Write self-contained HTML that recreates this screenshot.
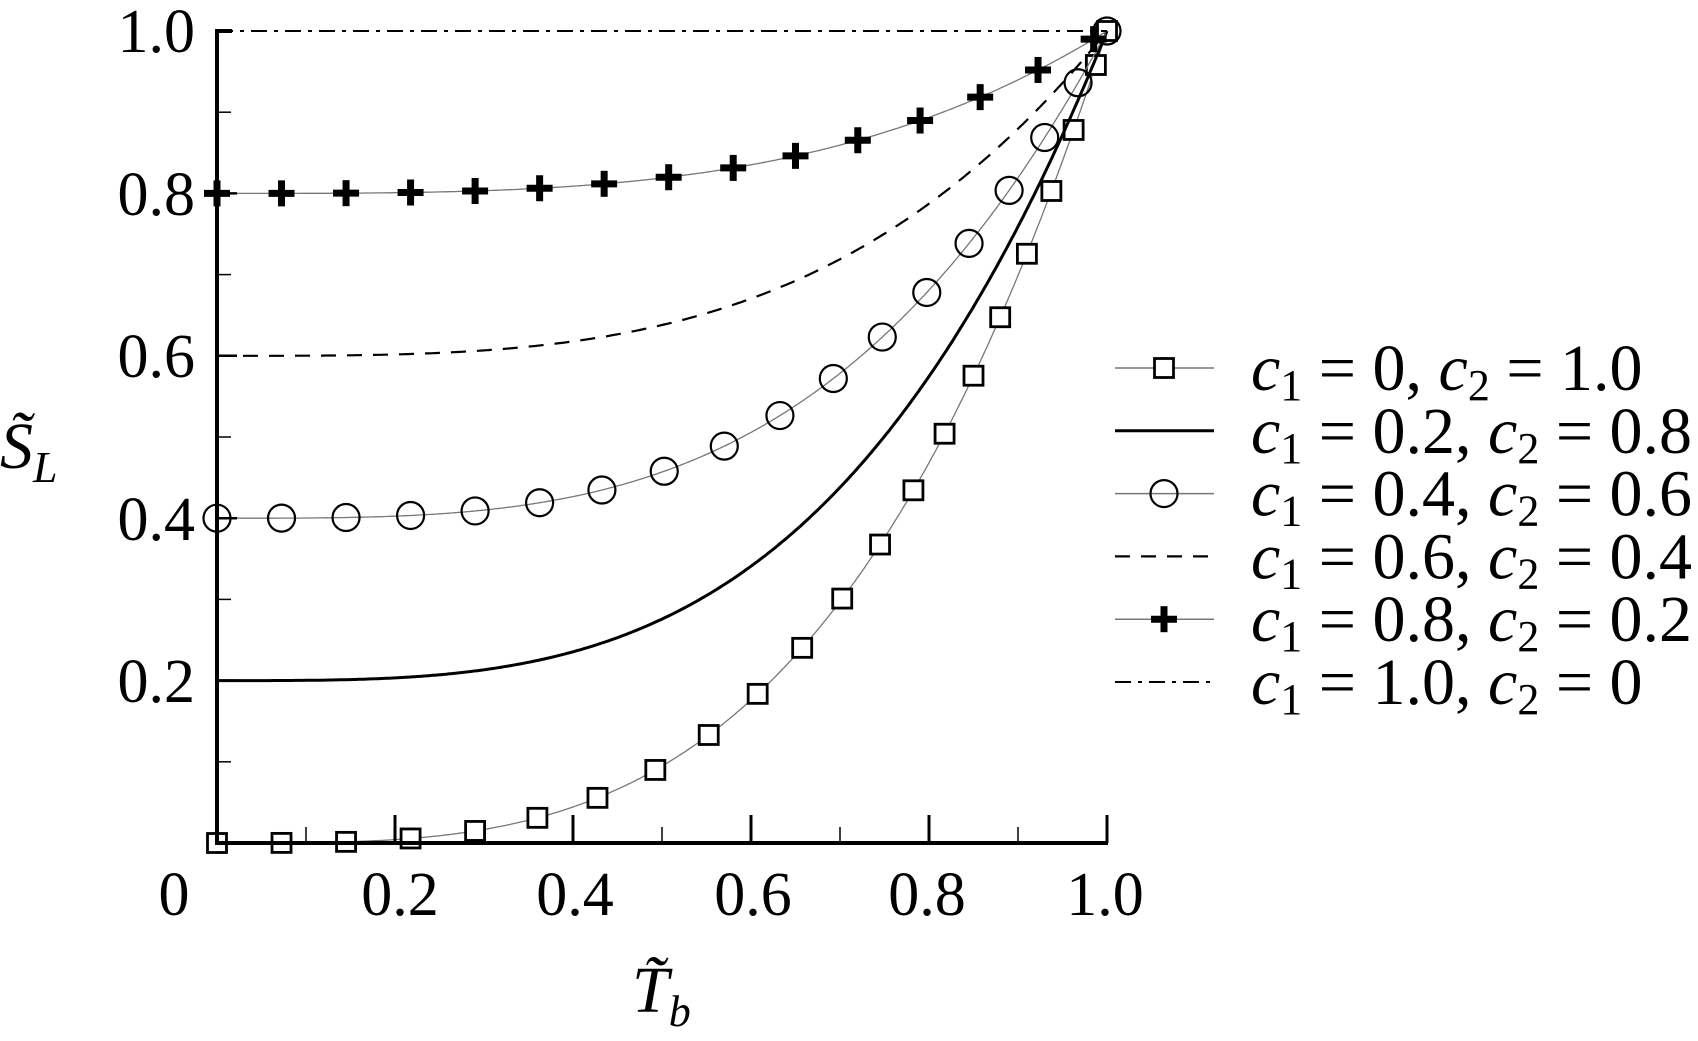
<!DOCTYPE html>
<html><head><meta charset="utf-8"><style>
html,body{margin:0;padding:0;background:#fff;}
svg{display:block;font-family:"Liberation Serif","Times New Roman",Times,serif;}
</style></head><body>
<svg id="s" width="1698" height="1041" viewBox="0 0 1698 1041" xmlns="http://www.w3.org/2000/svg">
<g id="curves"></g>
<g id="axes" stroke="#000" fill="none">
<line x1="217" y1="30" x2="217" y2="843" stroke-width="4"/>
<line x1="215" y1="843" x2="1108" y2="843" stroke-width="4"/>
<line x1="215" y1="31" x2="232" y2="31" stroke-width="4"/>
</g>
<g id="ticks" stroke="#000"></g>
<g font-size="62" text-anchor="end" fill="#000">
<text x="195" y="52">1.0</text>
<text x="195" y="215">0.8</text>
<text x="195" y="377">0.6</text>
<text x="195" y="540">0.4</text>
<text x="195" y="702">0.2</text>
</g>
<g font-size="62" text-anchor="middle" fill="#000">
<text x="174" y="915">0</text>
<text x="400" y="915">0.2</text>
<text x="575" y="915">0.4</text>
<text x="753" y="915">0.6</text>
<text x="927" y="915">0.8</text>
<text x="1105" y="915">1.0</text>
</g>
<text x="0" y="468" font-size="66" font-style="italic">S̃<tspan font-size="44" dy="14">L</tspan></text>
<text x="632" y="1012" font-size="66" font-style="italic">T̃<tspan font-size="44" dy="14">b</tspan></text>
<g id="legend" font-size="66" fill="#000"></g>
</svg>
<script>
const NS="http://www.w3.org/2000/svg";
const X0=217,X1=1107,Y0=843,Y1=31;
const px=t=>X0+(X1-X0)*t, py=s=>Y0-(Y0-Y1)*s;
const f=t=>Math.pow(t,3.4);
function el(tag,attrs,parent){const e=document.createElementNS(NS,tag);for(const k in attrs)e.setAttribute(k,attrs[k]);parent.appendChild(e);return e;}
const cg=document.getElementById('curves');
const series=[
 {c1:0,m:'sq',w:1.3,col:'#777'},
 {c1:0.2,m:null,w:3,col:'#000'},
 {c1:0.4,m:'ci',w:1.3,col:'#777'},
 {c1:0.6,m:null,w:2.2,col:'#000',dash:'15 11'},
 {c1:0.8,m:'pl',w:1.3,col:'#777'},
 {c1:1.0,m:null,w:2,col:'#000',dash:'16 7 4 7'}
];
function marker(type,x,y,g){
 if(type==='sq') el('rect',{x:x-9.5,y:y-9.5,width:19,height:19,fill:'#fff',stroke:'#000','stroke-width':2.8},g);
 else if(type==='ci') el('circle',{cx:x,cy:y,r:13.5,fill:'none',stroke:'#000','stroke-width':2.2},g);
 else if(type==='pl'){el('line',{x1:x-13,y1:y,x2:x+13,y2:y,stroke:'#000','stroke-width':7},g);el('line',{x1:x,y1:y-13,x2:x,y2:y+13,stroke:'#000','stroke-width':7},g);}
}
series.forEach(s=>{
 const pts=[];for(let i=0;i<=400;i++){const t=i/400;pts.push([px(t),py(s.c1+(1-s.c1)*f(t))]);}
 const a={d:'M'+pts.map(p=>p[0].toFixed(1)+','+p[1].toFixed(1)).join('L'),fill:'none',stroke:s.col,'stroke-width':s.w};
 if(s.dash)a['stroke-dasharray']=s.dash;
 el('path',a,cg);
 if(s.m){
  let acc=0;marker(s.m,pts[0][0],pts[0][1],cg);
  for(let i=1;i<pts.length;i++){acc+=Math.hypot(pts[i][0]-pts[i-1][0],pts[i][1]-pts[i-1][1]);
   if(acc>=63){marker(s.m,pts[i][0],pts[i][1],cg);acc=0;}}
  if(acc>20) marker(s.m,pts[400][0],pts[400][1],cg);
 }
});
const tg=document.getElementById('ticks');
for(let i=1;i<10;i++){const y=py(i/10);el('line',{x1:X0,y1:y,x2:X0+(i%2?14:20),y2:y,'stroke-width':i%2?1.5:2.5},tg);}
for(let i=1;i<=10;i++){const x=px(i/10);el('line',{x1:x,y1:Y0,x2:x,y2:Y0-(i%2?16:28),'stroke-width':i%2?1.5:3},tg);}
const lg=document.getElementById('legend');
const labels=[['0','1.0'],['0.2','0.8'],['0.4','0.6'],['0.6','0.4'],['0.8','0.2'],['1.0','0']];
labels.forEach((l,i)=>{
 const y=368+i*62.8, s=series[i];
 const a={x1:1115,y1:y,x2:1214,y2:y,stroke:s.col,'stroke-width':s.m?1.5:s.w};
 if(s.dash)a['stroke-dasharray']=s.dash;
 el('line',a,lg);
 if(s.m) marker(s.m,1164,y,lg);
 const t=el('text',{x:1251,y:y+22},lg);
 t.innerHTML='<tspan font-style="italic">c</tspan><tspan font-size="44" dy="10">1</tspan><tspan dy="-10"> = '+l[0]+', </tspan><tspan font-style="italic">c</tspan><tspan font-size="44" dy="10">2</tspan><tspan dy="-10"> = '+l[1]+'</tspan>';
});
</script>
</body></html>
